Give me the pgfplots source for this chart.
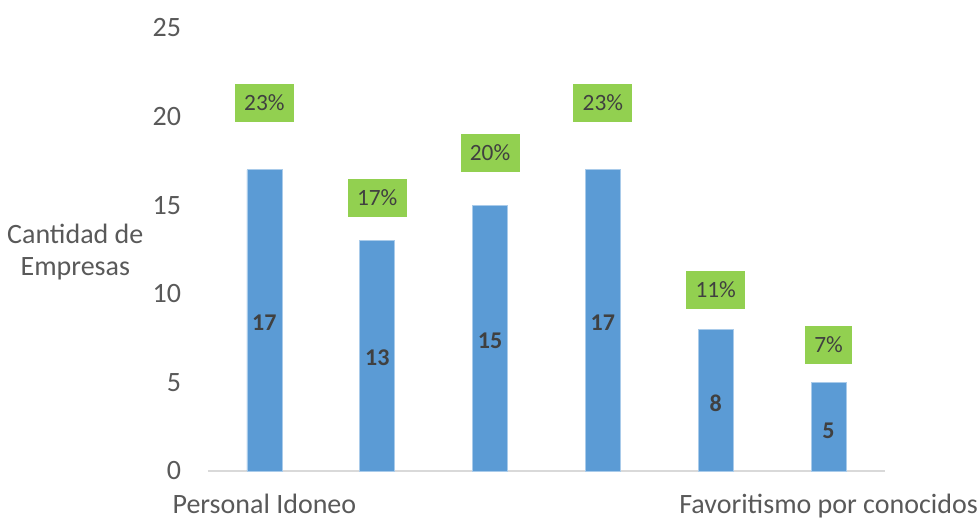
\documentclass[border=0pt]{standalone}
\usepackage{pgfplots}
\pgfplotsset{compat=1.18}
\usepackage{fontspec}
\setmainfont{Carlito}
\definecolor{barblue}{HTML}{5B9BD5}
\definecolor{baredge}{HTML}{A9CBEA}
\definecolor{labgreen}{HTML}{92D050}
\definecolor{txtgray}{HTML}{595959}
\definecolor{darkgray}{HTML}{404040}
\definecolor{axgray}{HTML}{D9D9D9}
\begin{document}
\begin{tikzpicture}
\begin{axis}[
  scale only axis,
  width=507.75pt, height=332.25pt,
  xmin=-0.5, xmax=5.5, ymin=0, ymax=25,
  axis lines*=left,
  y axis line style={draw=none},
  x axis line style={draw=axgray, line width=1.2pt},
  xtick={0,5},
  xticklabels={Personal Idoneo, Favoritismo por conocidos},
  ytick={0,5,10,15,20,25},
  major tick length=0pt,
  tick style={draw=none},
  /pgf/number format/assume math mode=true,
  xticklabel style={inner sep=0pt, anchor=north, yshift=-17pt, font=\fontsize{21}{25}\selectfont, text=txtgray},
  yticklabel style={inner sep=0pt, anchor=east, xshift=-20pt, font=\fontsize{21}{25}\selectfont, text=txtgray},
  ylabel={Cantidad de\\Empresas},
  ylabel style={rotate=-90, align=center, at={(axis description cs:-0.196,0.494)}, anchor=center, font=\fontsize{21}{23.5}\selectfont, text=txtgray},
  clip=false,
]
\addplot[ybar, bar shift=0pt, bar width=26.25pt, fill=barblue, draw=baredge, line width=0.6pt]
  coordinates {(0,17) (1,13) (2,15) (3,17) (4,8) (5,5)};
\addplot[draw=none, mark=none, nodes near coords, point meta=explicit symbolic,
  nodes near coords style={anchor=center, inner sep=0pt, font=\bfseries\fontsize{18}{21}\selectfont, text=darkgray}]
  coordinates {(0,8.38)[17] (1,6.38)[13] (2,7.35)[15] (3,8.38)[17] (4,3.83)[8] (5,2.29)[5]};
\addplot[draw=none, mark=none, nodes near coords, point meta=explicit symbolic,
  nodes near coords style={anchor=center, fill=labgreen, inner xsep=7pt, inner ysep=0pt, minimum height=28.5pt, font=\fontsize{17.5}{21}\selectfont, text=darkgray}]
  coordinates {(0,20.77)[23\%] (1,15.41)[17\%] (2,17.95)[20\%] (3,20.77)[23\%] (4,10.21)[11\%] (5,7.11)[7\%]};
\end{axis}
\pgfresetboundingbox
\path[use as bounding box] (-156pt,-37.5pt) rectangle (577.5pt,353.25pt);
\end{tikzpicture}
\end{document}
